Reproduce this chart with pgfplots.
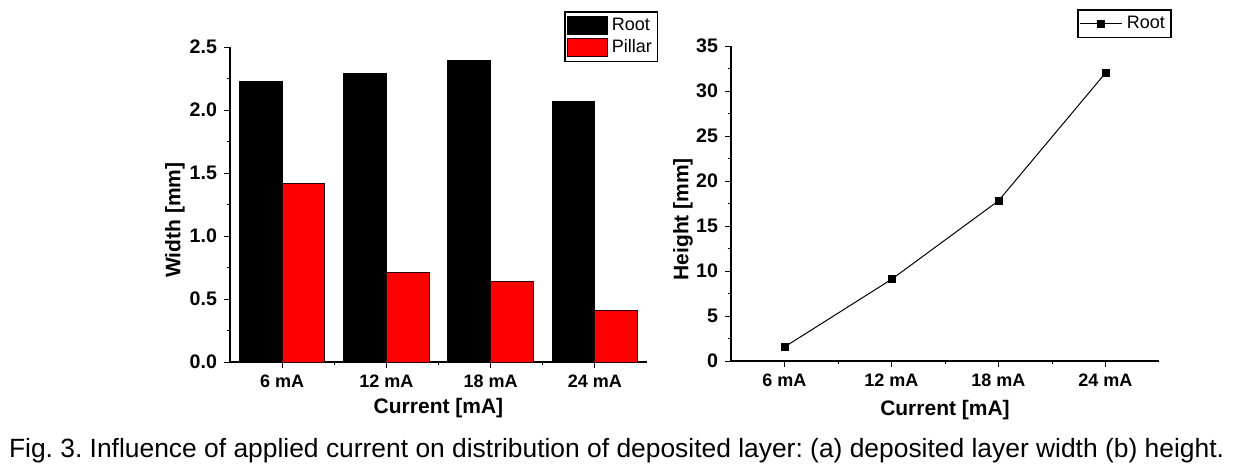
\documentclass[border=0pt]{standalone}
\usepackage{fontspec}
\setmainfont{Liberation Sans}
\usepackage{pgfplots}
\pgfplotsset{compat=1.18}
\frenchspacing
\begin{document}
\begin{tikzpicture}
\path[use as bounding box] (0,0) rectangle (619pt,-235.5pt);
\pgfplotsset{
  common/.style={
    scale only axis,
    axis x line*=bottom, axis y line*=left,
    tick align=outside,
    major tick length=3pt, minor tick length=1.7pt,
    every tick/.style={black, line width=0.5pt},
    axis line style={black, line width=0.6pt},
    xmin=-0.5, xmax=3.5, xtick={0,1,2,3},
    xticklabels={6 mA,12 mA,18 mA,24 mA},
    minor xtick={0.5,1.5,2.5},
    minor y tick num=1,
    /pgf/number format/assume math mode=true,
    xticklabel style={font=\fontsize{9}{10}\selectfont\bfseries},
    yticklabel style={font=\fontsize{9.8}{10}\selectfont\bfseries},
    label style={font=\fontsize{10.5}{12}\selectfont\bfseries},
    legend style={draw=black, line width=0.6pt, inner sep=1pt, outer sep=0pt,
      font=\fontsize{9}{10}\selectfont, row sep=-1pt,
      /tikz/every even column/.append style={column sep=2pt}},
    legend cell align=left,
  }
}
\begin{axis}[common,
  at={(115pt,-181pt)}, anchor=south west,
  width=208.5pt, height=157.5pt,
  ymin=0, ymax=2.5, ytick={0,0.5,1,1.5,2,2.5},
  yticklabel style={/pgf/number format/.cd, fixed, fixed zerofill, precision=1},
  xlabel={Current [mA]}, ylabel={Width [mm]},
  xlabel style={at={(axis description cs:0.5,-0.146)}, anchor=center},
  ylabel style={at={(axis description cs:-0.132,0.45)}, anchor=center},
  legend style={at={(axis description cs:1.026,1.111)}, anchor=north east},
  legend image code/.code={\fill[#1] (0pt,-4.5pt) rectangle (20pt,4.5pt);},
]
\addplot[ybar, bar width=0.41, bar shift=-0.205, fill=black, draw=black, line width=0.4pt]
  coordinates {(0,2.23) (1,2.29) (2,2.39) (3,2.07)};
\addlegendentry{Root}
\addplot[ybar, bar width=0.41, bar shift=0.205, fill=red, draw=black!85!red, line width=0.4pt]
  coordinates {(0,1.42) (1,0.71) (2,0.64) (3,0.41)};
\addlegendentry{Pillar}
\end{axis}
\begin{axis}[common,
  at={(365.5pt,-180.5pt)}, anchor=south west,
  width=214pt, height=157.5pt,
  ymin=0, ymax=35, ytick={0,5,...,35},
  xlabel={Current [mA]}, ylabel={Height [mm]},
  xlabel style={at={(axis description cs:0.5,-0.156)}, anchor=center},
  ylabel style={at={(axis description cs:-0.112,0.45)}, anchor=center},
  legend style={at={(axis description cs:1.028,1.114)}, anchor=north east},
  legend image code/.code={\draw[#1, mark repeat=2, mark phase=2] plot coordinates {(0pt,0pt) (10.5pt,0pt) (21pt,0pt)};},
]
\addplot[black, line width=0.5pt, mark=square*, mark size=1.75pt]
  coordinates {(0,1.56) (1,9.07) (2,17.8) (3,32.0)};
\addlegendentry{Root}
\end{axis}
\node[font=\fontsize{13.2}{15}\selectfont, anchor=center, inner sep=0pt] at (308.3pt,-225.5pt)
  {Fig. 3. Influence of applied current on distribution of deposited layer: (a) deposited layer width (b) height.};
\end{tikzpicture}
\end{document}
